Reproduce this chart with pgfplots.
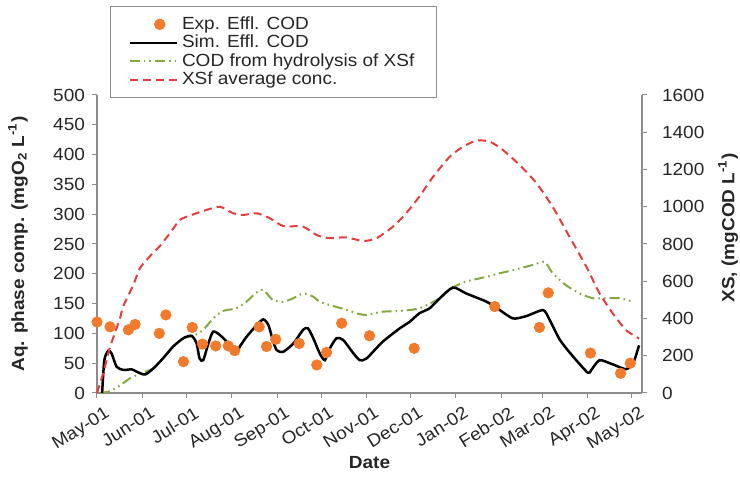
\documentclass[border=0pt]{standalone}
\usepackage{fontspec}
\setmainfont{Liberation Sans}[FakeStretch=1.08]
\usepackage{pgfplots}
\pgfplotsset{compat=1.18}

\definecolor{expor}{HTML}{F27A2C}
\definecolor{hydgreen}{HTML}{86A83E}
\definecolor{xsred}{HTML}{E63C3C}
\definecolor{axgray}{HTML}{8C8C8C}
\definecolor{txt}{HTML}{262626}

\newcommand{\lblfont}{\fontsize{8.8}{10.5}\selectfont}

\pgfplotsset{
  base/.style={
    scale only axis, width=272.5pt, height=149pt,
    xmin=0, xmax=372,
    clip=false,
    tick align=outside, major tick length=2.5pt,
    every tick/.style={axgray, line width=0.5pt},
    axis line style={axgray, line width=0.6pt},
    /pgf/number format/assume math mode=true,
    /pgf/number format/1000 sep={},
    tick label style={font=\lblfont, text=txt},
    label style={font=\bfseries\lblfont, text=txt},
  },
  linelegend/.style={legend image code/.code={\draw[##1] (0pt,0pt) -- (23.5pt,0pt);}},
  marklegend/.style={legend image code/.code={\draw[##1] plot coordinates {(15pt,0pt)};}},
}

\begin{document}
\begin{tikzpicture}[font=\lblfont]
% left axis: effluent COD, simulated and measured, and hydrolysis COD
\begin{axis}[base,
  axis x line*=bottom, axis y line*=left,
  ymin=0, ymax=500, ytick={0,50,...,500},
  xtick={0,31,61,92,123,153,184,214,245,276,304,335,365},
  xticklabels={May-01,Jun-01,Jul-01,Aug-01,Sep-01,Oct-01,Nov-01,Dec-01,Jan-02,Feb-02,Mar-02,Apr-02,May-02},
  xticklabel style={rotate=32, anchor=north east, inner sep=1pt, yshift=-4pt, xshift=2pt},
  xlabel={Date},
  xlabel style={at={(axis description cs:0.5,-0.235)}, anchor=center},
  ylabel={Aq. phase comp. (mgO\textsubscript{2} L\textsuperscript{-1})},
  ylabel style={at={(axis description cs:-0.145,0.5)}, anchor=center},
]
\coordinate (SW) at (rel axis cs:0,0);
\coordinate (NE) at (rel axis cs:1,1);

% hydrolysis COD
\addplot[hydgreen, line width=1pt, smooth, tension=0.4,
  dash pattern=on 5pt off 2pt on 0.8pt off 2pt on 0.8pt off 2pt] coordinates {
  (2,0) (9,3) (17,15) (22.5,24.6) (29,32) (38,41) (45,58) (52,77) (59,92)
  (66,96) (72.5,106) (79.3,125) (86,137.6) (95,142) (102,153) (108,167)
  (113.5,173) (120,156) (127,153) (134,159) (140.7,167) (147.6,161.6)
  (152,153) (161,146) (170,140) (177,133.7) (184,131) (195,136.4)
  (206.7,137.6) (220,142) (234,159) (243,177) (252,187) (266,195) (275,201)
  (284,206) (297.6,215) (305.6,220) (311,201) (320,181) (329.5,167)
  (338.5,159) (347.7,159) (357,159) (366,153)
};

% simulated effluent COD
\addplot[black, line width=1.25pt, smooth, tension=0.4] coordinates {
  (3.5,0) (5,55) (7.7,71) (10,66) (13.4,44) (18,38.6) (23.7,39.7) (27,35.8)
  (32.7,31) (38.4,41) (45,58) (52,78) (59,92) (64.6,96) (68,83) (70,58)
  (72.5,55) (76,83) (79.3,103) (84,97) (90.7,80.5) (95.3,69) (97.5,78)
  (102,94) (109,114) (113.5,123.6) (117,114) (120,89) (122.6,72) (127,69)
  (134,83) (140.7,106) (144,108.5) (147.6,92) (152,66.6) (155.5,55) (159,75)
  (163.5,92) (168,89) (175,66.6) (179.4,55) (184,58) (195,86) (206.7,108.5)
  (213.5,119.6) (220,133.7) (227,142) (234,159) (243,177) (252,167) (266,153)
  (275,139) (284,125) (293,129) (304.5,139) (309,122.5) (316,89) (325,61)
  (335,34) (337.4,38.6) (343,55) (352,48) (361,40) (366,50) (370,80)
};

% measured effluent COD
\addplot[only marks, mark=*, mark size=2.6pt, color=expor] coordinates {
  (0,119) (8.9,111) (21.4,106) (26,115) (42.5,100) (47,131) (59,52.5)
  (65,110) (72,82) (81,79) (89.6,79) (94,71) (110.7,111) (115.7,78) (122,90)
  (138,83) (150,47) (156.7,68) (167,117) (186,96) (216.5,75) (271.5,145)
  (302,110) (308,168) (336.8,67) (357.4,33) (364,50)
};
\end{axis}

% right axis: average XSf concentration
\begin{axis}[base,
  axis x line=none, axis y line*=right,
  ymin=0, ymax=1600, ytick={0,200,...,1600},
  yticklabel style={anchor=west, xshift=4pt},
  ylabel={XS, (mgCOD L\textsuperscript{-1})},
  ylabel style={at={(axis description cs:1.158,0.554)}, anchor=center},
  legend style={at={(axis description cs:0.0239,1.2987)}, anchor=north west,
    draw=axgray, line width=0.5pt, fill=white, font=\lblfont, text=txt,
    inner xsep=9pt, inner ysep=3pt, row sep=-2.6pt},
  legend cell align=left,
]
\addlegendimage{only marks, mark=*, mark size=2.6pt, color=expor, marklegend}
\addlegendentry{Exp. Effl. COD}
\addlegendimage{black, line width=1.25pt, linelegend}
\addlegendentry{Sim. Effl. COD}
\addlegendimage{hydgreen, line width=1pt, linelegend,
  dash pattern=on 5pt off 2pt on 0.8pt off 2pt on 0.8pt off 2pt}
\addlegendentry{COD from hydrolysis of XSf}

\addplot[xsred, line width=1pt, smooth, tension=0.4,
  dash pattern=on 4pt off 2.5pt, linelegend] coordinates {
  (0,0) (4,100) (6.6,177) (8.9,247) (15.7,401) (17.7,462) (24.8,580)
  (29.3,670) (36.2,735) (43,790) (49.8,858) (56.6,929) (64.6,956)
  (74.8,983) (83.9,1000) (93,965) (99.8,956) (109,965) (118,938) (127,897)
  (140.7,893) (150,848) (159,831) (170,836) (181.6,816) (190.8,831)
  (202,893) (211,965) (220,1054) (229.4,1161) (240.8,1269) (250,1323)
  (259,1355) (268,1350) (277,1305) (288.5,1224) (300,1126) (311,1000)
  (322.5,839) (334,678) (343,535) (352,428) (361,338) (368,302) (370,292)
};
\addlegendentry{XSf average conc.}
\end{axis}

\pgfresetboundingbox
\path[use as bounding box] ([xshift=-48.5pt,yshift=-53pt]SW) rectangle ([xshift=49pt,yshift=47.5pt]NE);
\end{tikzpicture}
\end{document}
